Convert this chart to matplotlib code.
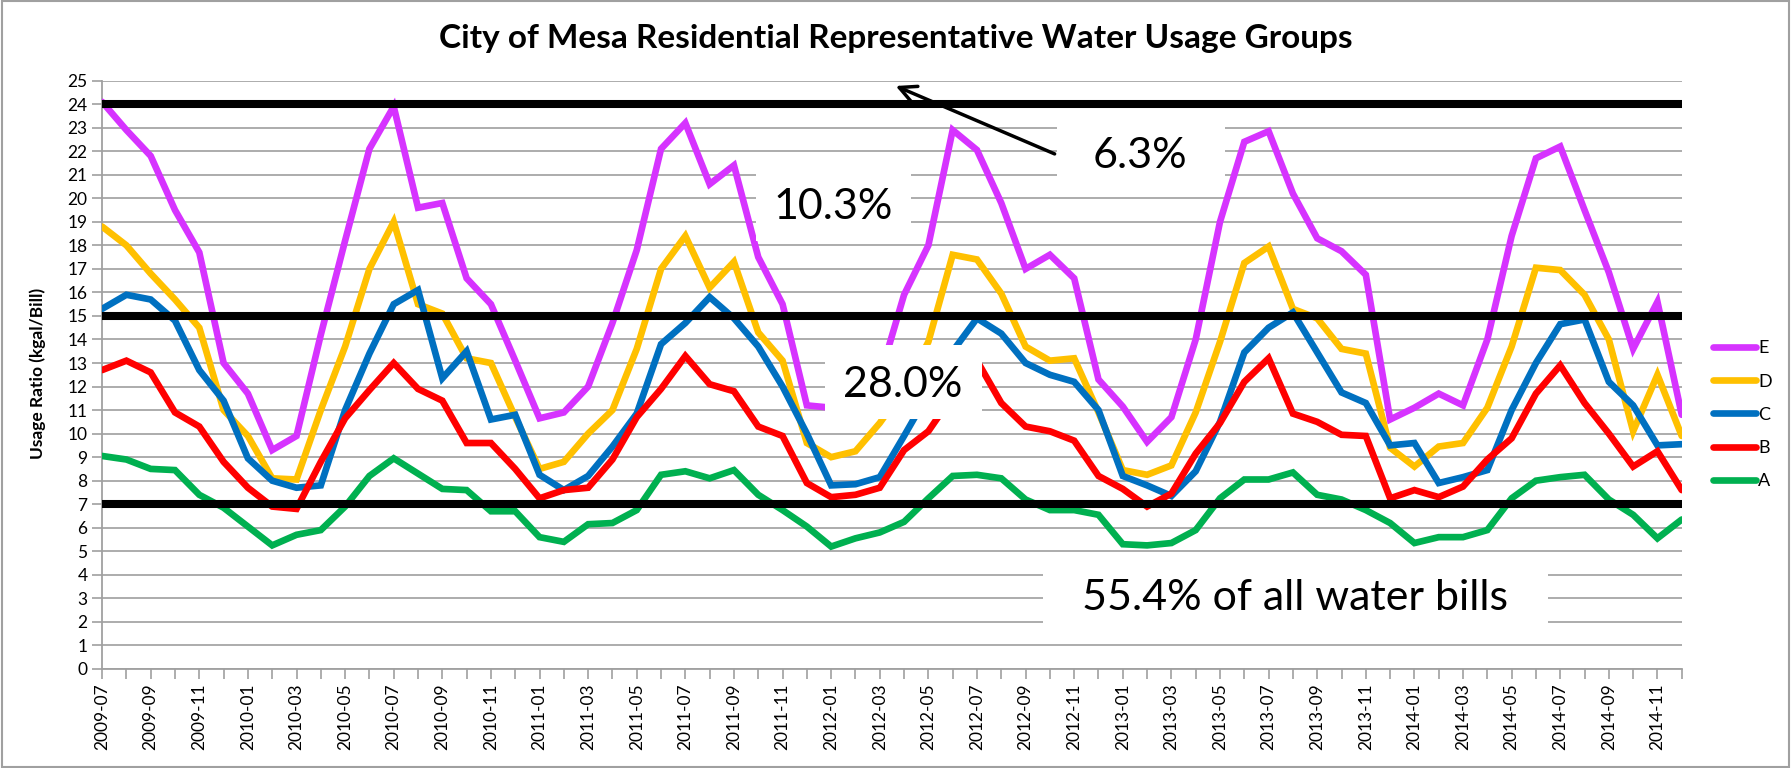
import matplotlib
matplotlib.use('Agg')
import pandas as pd
from matplotlib import pyplot as plt
from matplotlib.patches import Rectangle

plt.rcParams['font.family'] = ['Lato', 'DejaVu Sans']

# months 2009-07 .. 2014-12, label every second month
months = pd.period_range('2009-07', '2014-12', freq='M').strftime('%Y-%m').tolist()
tick_labels = [m if i % 2 == 0 else '' for i, m in enumerate(months)]

group_e = [24.1, 22.9, 21.8, 19.5, 17.7, 13.0, 11.7, 9.3, 9.9, 14.2, 18.2, 22.1,
           23.9, 19.6, 19.8, 16.6, 15.5, 13.1, 10.65, 10.9, 12.0, 14.7, 17.8, 22.1,
           23.2, 20.6, 21.4, 17.5, 15.5, 11.2, 11.1, 11.4, 12.4, 15.9, 18.0, 22.9,
           22.05, 19.8, 17.0, 17.6, 16.6, 12.3, 11.15, 9.65, 10.7, 14.0, 19.0, 22.4,
           22.85, 20.2, 18.3, 17.75, 16.75, 10.6, 11.1, 11.7, 11.2, 14.0, 18.4, 21.7,
           22.2, 19.5, 16.85, 13.6, 15.6, 10.8]
group_d = [18.8, 18.0, 16.8, 15.7, 14.5, 11.0, 9.9, 8.1, 8.05, 11.0, 13.7, 17.0,
           19.0, 15.5, 15.1, 13.2, 13.0, 10.7, 8.5, 8.8, 10.0, 11.0, 13.6, 17.0,
           18.4, 16.2, 17.3, 14.3, 13.1, 9.6, 9.0, 9.25, 10.45, 11.9, 13.9, 17.6,
           17.4, 15.95, 13.7, 13.1, 13.2, 10.9, 8.45, 8.25, 8.65, 10.9, 13.9, 17.25,
           17.95, 15.3, 14.9, 13.6, 13.4, 9.4, 8.6, 9.45, 9.6, 11.1, 13.7, 17.05,
           16.95, 15.9, 14.0, 10.1, 12.5, 9.9]
group_c = [15.3, 15.9, 15.7, 14.8, 12.7, 11.4, 8.95, 8.0, 7.7, 7.8, 11.0, 13.4,
           15.5, 16.1, 12.35, 13.5, 10.6, 10.8, 8.25, 7.6, 8.2, 9.45, 10.85, 13.8,
           14.7, 15.8, 14.9, 13.7, 12.0, 10.0, 7.8, 7.85, 8.15, 9.9, 11.7, 13.5,
           14.9, 14.25, 13.0, 12.5, 12.2, 11.0, 8.2, 7.8, 7.35, 8.4, 10.5, 13.45,
           14.5, 15.15, 13.45, 11.75, 11.3, 9.5, 9.6, 7.9, 8.15, 8.45, 11.0, 13.0,
           14.65, 14.85, 12.2, 11.2, 9.5, 9.55]
group_b = [12.7, 13.1, 12.6, 10.9, 10.3, 8.8, 7.7, 6.9, 6.8, 8.8, 10.65, 11.85,
           13.0, 11.9, 11.4, 9.6, 9.6, 8.5, 7.25, 7.6, 7.7, 8.9, 10.7, 11.9,
           13.3, 12.1, 11.8, 10.3, 9.9, 7.9, 7.3, 7.4, 7.7, 9.3, 10.1, 11.6,
           13.1, 11.3, 10.3, 10.1, 9.7, 8.2, 7.65, 6.9, 7.45, 9.15, 10.45, 12.2,
           13.2, 10.85, 10.5, 9.95, 9.9, 7.25, 7.6, 7.3, 7.75, 8.9, 9.8, 11.7,
           12.9, 11.3, 10.0, 8.6, 9.25, 7.6]
group_a = [9.05, 8.9, 8.5, 8.45, 7.4, 6.85, 6.05, 5.25, 5.7, 5.9, 6.9, 8.2,
           8.95, 8.3, 7.65, 7.6, 6.7, 6.7, 5.6, 5.4, 6.15, 6.2, 6.75, 8.25,
           8.4, 8.1, 8.45, 7.4, 6.75, 6.05, 5.2, 5.55, 5.8, 6.25, 7.25, 8.2,
           8.25, 8.1, 7.2, 6.75, 6.75, 6.55, 5.3, 5.25, 5.35, 5.9, 7.25, 8.05,
           8.05, 8.35, 7.4, 7.2, 6.75, 6.2, 5.35, 5.6, 5.6, 5.9, 7.25, 8.0,
           8.15, 8.25, 7.2, 6.55, 5.55, 6.35]

series_names = ['E', 'D', 'C', 'B', 'A']
series_colors = ['#D633FF', '#FFC000', '#0070C0', '#FF0000', '#00B050']
series_values = [group_e, group_d, group_c, group_b, group_a]

limits = [7, 15, 24]

# share labels: text, x, y, box (x0, x1, y0, y1)
labels = [
    ('6.3%', 42.7, 21.8, (39.3, 46.2, 20.6, 23.6)),
    ('10.3%', 30.1, 19.65, (26.9, 33.3, 18.2, 21.6)),
    ('28.0%', 32.95, 12.07, (29.75, 36.2, 10.6, 13.75)),
    ('55.4% of all water bills', 49.1, 3.0, (38.7, 59.5, 1.5, 4.5)),
]

fig = plt.figure(figsize=(17.91, 7.68), dpi=100)
ax = fig.add_axes([0.057, 0.129, 0.882, 0.766])

x = range(len(months))
for name, col, vals in zip(series_names, series_colors, series_values):
    ax.plot(x, vals, color=col, lw=4.8, label=name, solid_capstyle='round',
            solid_joinstyle='miter', zorder=3)

for lim in limits:
    ax.axhline(lim, color='black', lw=5.8, zorder=4)

for txt, tx, ty, (x0, x1, y0, y1) in labels:
    ax.add_patch(Rectangle((x0, y0), x1 - x0, y1 - y0, facecolor='white',
                           edgecolor='none', zorder=5))
    ax.text(tx, ty, txt, fontsize=31, ha='center', va='center', zorder=6)

ax.annotate('', xy=(32.55, 24.82), xytext=(39.3, 21.84),
            arrowprops=dict(arrowstyle='->', lw=2.5, color='black',
                            mutation_scale=30), zorder=7)

ax.set_xlim(0, len(months) - 1)
ax.set_ylim(0, 25)
ax.set_yticks(range(26))
ax.set_xticks(list(x))
ax.set_xticklabels(tick_labels, rotation=90, fontsize=12.5)
ax.tick_params(axis='y', labelsize=12.5, length=7, color='#A0A0A0', width=1.2)
ax.tick_params(axis='x', length=7, color='#A0A0A0', width=1.2)
ax.grid(axis='y', color='#A6A6A6', lw=1.3, zorder=1)
ax.set_axisbelow(True)
for s in ['top', 'right']:
    ax.spines[s].set_visible(False)
for s in ['left', 'bottom']:
    ax.spines[s].set_color('#A0A0A0')
    ax.spines[s].set_linewidth(1.3)

fig.text(0.5, 0.95, 'City of Mesa Residential Representative Water Usage Groups',
         ha='center', va='center', fontsize=24, fontweight='bold')
fig.text(0.021, 0.514, 'Usage Ratio (kgal/Bill)', rotation=90, ha='center',
         va='center', fontsize=12.5, fontweight='bold')

fig.legend(loc='center left', bbox_to_anchor=(0.9565, 0.46), frameon=False,
           fontsize=13, handlelength=2.4, handletextpad=0.1, labelspacing=0.95,
           borderpad=0, borderaxespad=0)

fig.add_artist(Rectangle((0.001, 0.001), 0.998, 0.998, transform=fig.transFigure,
                         facecolor='none', edgecolor='#A0A0A0', lw=1.5))

fig.savefig('out.png', dpi=100)
